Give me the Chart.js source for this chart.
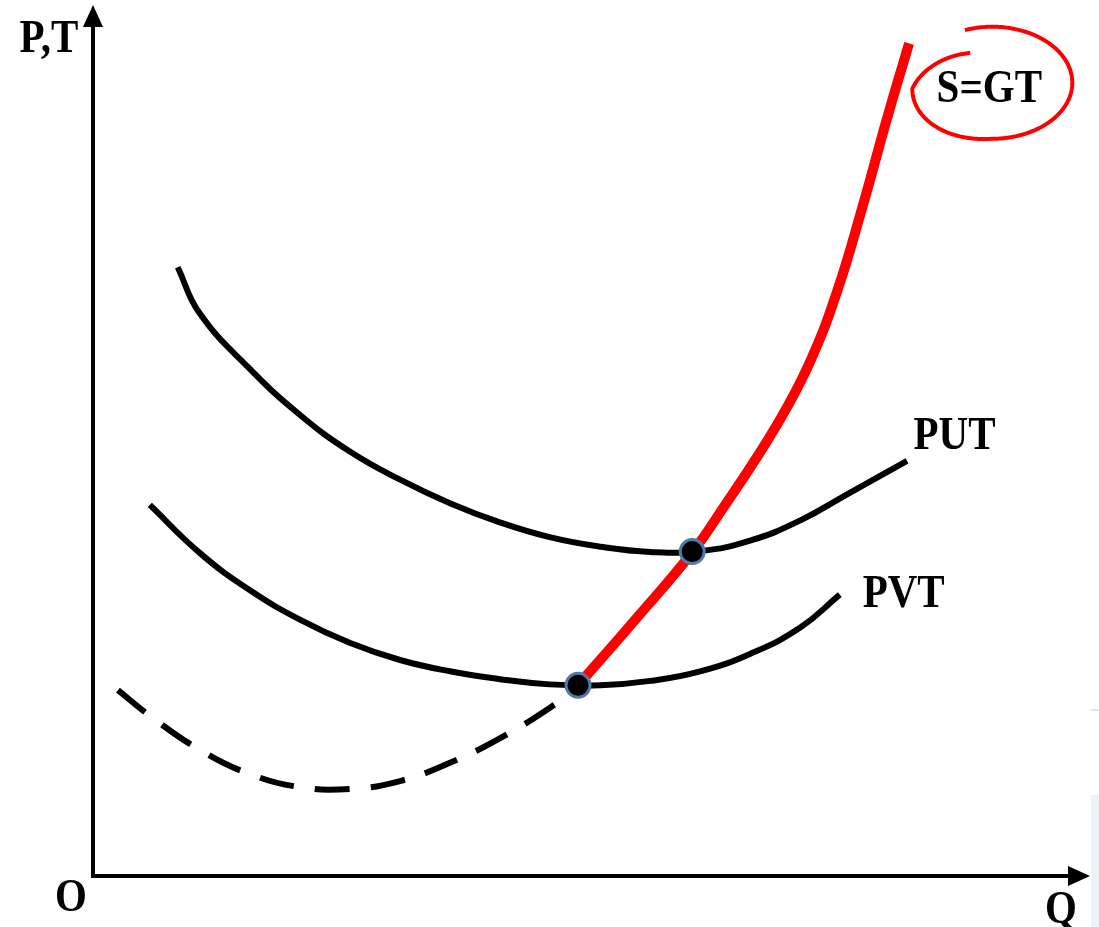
<!DOCTYPE html>
<html>
<head>
<meta charset="utf-8">
<script src="https://cdn.jsdelivr.net/npm/chart.js@4.4.1/dist/chart.umd.min.js"></script>
<style>
html,body{margin:0;padding:0;background:#fff;}
canvas{display:block;}
</style>
</head>
<body>
<canvas id="c" width="1099" height="927"></canvas>
<script>
// Data (abstract units: Q on x 0..100, P,T on y 0..100)
const putQ = [8.5, 10.7, 15.75, 20.8, 25.8, 30.8, 35.8, 40.8, 45.8, 50.9, 55.9, 60.9, 65.9, 70.9, 75.9, 81.65];
const putT = [69.9, 64.6, 58.2, 52.9, 48.7, 45.5, 42.8, 40.6, 38.9, 37.8, 37.2, 37.3, 38.5, 40.8, 44.0, 47.65];

const pvtQ = [5.7, 10.7, 15.75, 20.8, 25.8, 30.8, 35.8, 40.8, 45.8, 50.9, 55.9, 60.9, 65.9, 70.9, 74.9];
const pvtT = [42.6, 37.1, 32.8, 29.4, 26.75, 24.8, 23.5, 22.6, 22.0, 21.9, 22.4, 23.5, 25.5, 28.5, 32.3];

const mcQ = [2.5, 5.7, 10.7, 15.75, 20.8, 25.8, 30.8, 35.8, 40.8, 45.8, 48.65];
const mcT = [21.35, 18.4, 14.5, 11.7, 10.2, 10.0, 10.9, 13.0, 15.8, 19.3, 21.7];

const supplyQ = [48.65, 54.4, 60.2, 63.4, 66.6, 69.6, 72.1, 74.6, 77.1, 79.6, 81.85];
const supplyP = [21.9, 29.45, 37.3, 42.6, 48.1, 53.8, 59.5, 67.0, 76.5, 86.8, 95.6];

const dotQ = [48.65, 60.1];
const dotP = [21.9, 37.25];

const labels = [
  {text: 'PUT', q: 82.3, p: 50.6, align: 'left'},
  {text: 'PVT', q: 77.2, p: 32.5, align: 'left'},
  {text: 'S=GT', q: 89.9, p: 90.5, align: 'center'}
];

const zip = (xs, ys) => xs.map((x, i) => ({x: x, y: ys[i]}));

const FONT = 'bold 41px "Liberation Serif", "Times New Roman", serif';
const VSTRETCH = 1.14;

function drawText(ctx, text, x, y, align) {
  ctx.save();
  ctx.translate(x, y);
  ctx.scale(1, VSTRETCH);
  ctx.font = FONT;
  ctx.textAlign = align;
  ctx.textBaseline = 'middle';
  ctx.fillText(text, 0, 0);
  ctx.restore();
}

const decor = {
  id: 'decor',
  beforeDraw(chart) {
    const ctx = chart.ctx;
    ctx.save();
    ctx.fillStyle = '#fff';
    ctx.fillRect(0, 0, chart.width, chart.height);
    ctx.fillStyle = '#EEF1FA';
    ctx.fillRect(1091, 795, 8, 132);
    ctx.fillStyle = '#DCE3F5';
    ctx.fillRect(1091, 709, 8, 2);
    ctx.restore();
  },
  beforeDatasetsDraw(chart) {
    const ctx = chart.ctx;
    const a = chart.chartArea;
    ctx.save();
    ctx.strokeStyle = '#000';
    ctx.fillStyle = '#000';
    ctx.lineWidth = 4;
    // y axis
    ctx.beginPath();
    ctx.moveTo(a.left, a.bottom + 2);
    ctx.lineTo(a.left, a.top + 18);
    ctx.stroke();
    ctx.beginPath();
    ctx.moveTo(a.left, a.top);
    ctx.lineTo(a.left - 10, a.top + 22);
    ctx.lineTo(a.left + 10, a.top + 22);
    ctx.closePath();
    ctx.fill();
    // x axis
    ctx.beginPath();
    ctx.moveTo(a.left - 2, a.bottom);
    ctx.lineTo(a.right - 18, a.bottom);
    ctx.stroke();
    ctx.beginPath();
    ctx.moveTo(a.right, a.bottom);
    ctx.lineTo(a.right - 22, a.bottom - 10);
    ctx.lineTo(a.right - 22, a.bottom + 10);
    ctx.closePath();
    ctx.fill();
    // axis labels
    ctx.fillStyle = '#000';
    drawText(ctx, 'P,T', a.left - 44, 40, 'center');
    drawText(ctx, 'O', a.left - 22, a.bottom + 23, 'center');
    drawText(ctx, 'Q', a.right - 29, a.bottom + 35, 'center');
    ctx.restore();
  },
  afterDatasetsDraw(chart) {
    const ctx = chart.ctx;
    const xs = chart.scales.x, ys = chart.scales.y;
    ctx.save();
    ctx.fillStyle = '#000';
    labels.forEach(l => {
      drawText(ctx, l.text, xs.getPixelForValue(l.q), ys.getPixelForValue(l.p) + 2, l.align);
    });
    // hand-drawn ellipse around S=GT
    const cx = xs.getPixelForValue(89.9) + 3;
    const cy = ys.getPixelForValue(90.5) - 5;
    const rx = 80, ry = 56;
    ctx.strokeStyle = '#FF0000';
    ctx.lineWidth = 4;
    ctx.lineCap = 'butt';
    ctx.beginPath();
    const t0 = -1.92, t1 = -1.92 + 2 * Math.PI * 0.985;
    const n = 240;
    for (let i = 0; i <= n; i++) {
      const t = t0 + (t1 - t0) * i / n;
      let s = 1;
      if (t > Math.PI) s = 1 - 0.36 * (t - Math.PI) / (t1 - Math.PI);
      const dy = (t > Math.PI * 0.5 && t < Math.PI * 1.5) ? 6 * Math.sin((t - Math.PI * 0.5)) : 0;
      const px = cx + rx * s * Math.cos(t);
      const py = cy + ry * s * Math.sin(t) + dy;
      if (i === 0) ctx.moveTo(px, py); else ctx.lineTo(px, py);
    }
    ctx.stroke();
    ctx.restore();
  }
};

const curve = {showLine: true, pointRadius: 0, tension: 0.45, clip: false, borderCapStyle: 'butt'};

new Chart(document.getElementById('c'), {
  type: 'scatter',
  data: {
    datasets: [
      {
        data: zip(dotQ, dotP), order: 0, showLine: false,
        pointRadius: 12, pointHoverRadius: 12,
        backgroundColor: '#000', borderColor: '#4F7BA6', borderWidth: 3, clip: false
      },
      Object.assign({data: zip(supplyQ, supplyP), order: 1, borderColor: '#FF0000', borderWidth: 10}, curve),
      Object.assign({data: zip(putQ, putT), order: 2, borderColor: '#000', borderWidth: 6}, curve),
      Object.assign({data: zip(pvtQ, pvtT), order: 2, borderColor: '#000', borderWidth: 6}, curve),
      Object.assign({data: zip(mcQ, mcT), order: 2, borderColor: '#000', borderWidth: 6, borderDash: [35, 21]}, curve)
    ]
  },
  options: {
    responsive: false,
    animation: false,
    events: [],
    layout: {autoPadding: false, padding: {left: 93, right: 9, top: 5, bottom: 51}},
    plugins: {legend: {display: false}, tooltip: {enabled: false}},
    scales: {
      x: {type: 'linear', min: 0, max: 100, display: false},
      y: {type: 'linear', min: 0, max: 100, display: false}
    }
  },
  plugins: [decor]
});
</script>
</body>
</html>
